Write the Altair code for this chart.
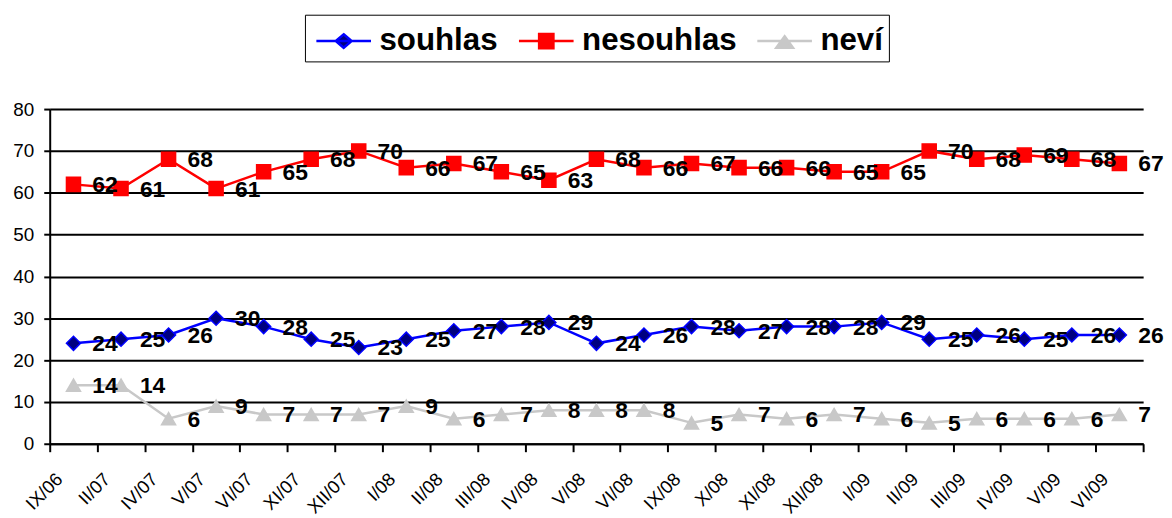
import altair as alt
import pandas as pd

periods = ["IX/06", "II/07", "IV/07", "V/07", "VI/07", "XI/07", "XII/07", "I/08",
           "II/08", "III/08", "IV/08", "V/08", "VI/08", "IX/08", "X/08", "XI/08",
           "XII/08", "I/09", "II/09", "III/09", "IV/09", "V/09", "VI/09"]
souhlas = [24, 25, 26, 30, 28, 25, 23, 25, 27, 28, 29, 24, 26, 28, 27, 28, 28, 29, 25, 26, 25, 26, 26]
nesouhlas = [62, 61, 68, 61, 65, 68, 70, 66, 67, 65, 63, 68, 66, 67, 66, 66, 65, 65, 70, 68, 69, 68, 67]
nevi = [14, 14, 6, 9, 7, 7, 7, 9, 6, 7, 8, 8, 8, 5, 7, 6, 7, 6, 5, 6, 6, 6, 7]
series_names = ["souhlas", "nesouhlas", "neví"]
y_ticks = [0, 10, 20, 30, 40, 50, 60, 70, 80]

line_colors = ["#0000FF", "#FF0000", "#C8C8C8"]
fill_colors = ["#000080", "#FF0000", "#C8C8C8"]
marker_shapes = ["diamond", "square", "triangle-up"]
# legend symbols: a line with the series marker in its middle
legend_paths = [
    "M-0.75,0L2,0M0.625,-0.34L1.025,0L0.625,0.34L0.225,0Z",
    "M-0.75,0L2,0M0.265,-0.36L0.985,-0.36L0.985,0.36L0.265,0.36Z",
    "M-0.75,0L2,0M0.625,-0.24L1.045,0.34L0.205,0.34Z",
]

rows = []
for name, vals in zip(series_names, [souhlas, nesouhlas, nevi]):
    for p, v in zip(periods, vals):
        rows.append({"period": p, "series": name, "value": v})
df = pd.DataFrame(rows)

FONT = "Liberation Sans"

x = alt.X(
    "period:N", sort=periods, bandPosition=0.5,
    scale=alt.Scale(type="band", paddingInner=0, paddingOuter=0),
    axis=alt.Axis(title=None, labelAngle=-45, labelAlign="right", labelBaseline="top",
                  labelFont=FONT, labelFontSize=18.5, labelColor="black",
                  labelPadding=18, labelOffset=-21, tickBand="extent", tickSize=8,
                  tickWidth=2, tickColor="black", domainColor="black", domainWidth=2,
                  grid=False, labelOverlap=False, labelBound=False, labelFlush=False),
)
y = alt.Y(
    "value:Q", scale=alt.Scale(domain=[0, 80], nice=False, zero=True),
    axis=alt.Axis(title=None, values=y_ticks, labelFont=FONT, labelFontSize=19,
                  labelColor="black", labelPadding=10, tickSize=6, tickWidth=2,
                  tickColor="black", domainColor="black", domainWidth=2,
                  grid=True, gridColor="black", gridWidth=2),
)

fill_scale = alt.Scale(domain=series_names, range=fill_colors)
stroke_scale = alt.Scale(domain=series_names, range=line_colors)

base = alt.Chart(df)

lines = base.mark_line(strokeWidth=2.5).encode(
    x=x, y=y,
    color=alt.Color("series:N", scale=stroke_scale, legend=None),
)

points = base.mark_point(filled=True, opacity=1, strokeWidth=1.5, size=200).encode(
    x=x, y=y,
    fill=alt.Fill("series:N", scale=fill_scale, legend=None),
    stroke=alt.Stroke("series:N", scale=stroke_scale, legend=None),
    shape=alt.Shape("series:N", scale=alt.Scale(domain=series_names, range=marker_shapes), legend=None),
)

labels = base.mark_text(align="left", baseline="middle", dx=19, dy=1, font=FONT,
                        fontSize=23, fontWeight="bold", color="black").encode(
    x=x, y=y, text="value:Q",
)

leg = dict(orient="none", legendX=257, legendY=-95, direction="horizontal", title=None)
legend_layer = base.transform_filter("false").mark_point(
    filled=True, opacity=1, strokeWidth=2.5
).encode(
    fill=alt.Fill("series:N", scale=fill_scale, legend=alt.Legend(**leg)),
    stroke=alt.Stroke("series:N", scale=stroke_scale, legend=alt.Legend(**leg)),
    shape=alt.Shape("series:N", scale=alt.Scale(domain=series_names, range=legend_paths),
                    legend=alt.Legend(**leg)),
)

chart = alt.layer(lines, points, labels, legend_layer).resolve_scale(
    shape="independent"
).resolve_legend(
    fill="independent", stroke="independent", shape="independent"
).properties(
    width=1101, height=337,
    padding={"left": 4, "top": 4, "right": 0, "bottom": 0},
    background="white",
).configure_view(stroke=None).configure_legend(
    labelFont=FONT, labelFontSize=31.5, labelFontWeight="bold", labelColor="black",
    symbolSize=1600, symbolStrokeWidth=2.5, strokeColor="black",
    padding=5, columnPadding=14, labelOffset=27, labelLimit=0,
)

chart.save("out.html", embed_options={"renderer": "svg", "actions": False})
